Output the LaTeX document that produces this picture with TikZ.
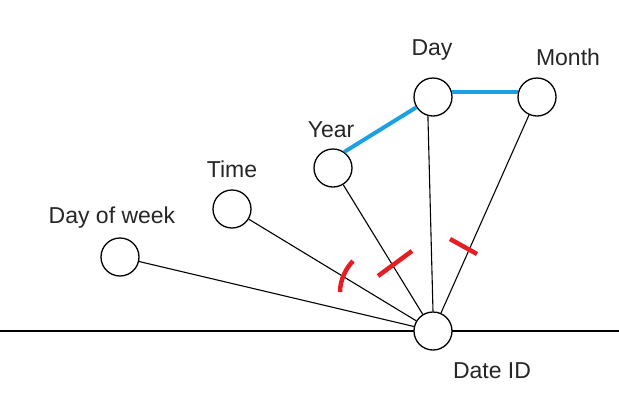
\documentclass[tikz,border=0pt]{standalone}
\usepackage{fontspec}
\setmainfont{Liberation Sans}
\usetikzlibrary{positioning}
\definecolor{linkblue}{RGB}{27,161,226}
\definecolor{cutred}{RGB}{230,30,36}

\begin{document}
\begin{tikzpicture}[x=1pt,y=-1pt,
        attr/.style={draw,circle,line width=1.3pt,minimum size=38pt,inner sep=0pt},
        lbl/.style={anchor=base,text=black!85,font=\fontsize{23}{26}\selectfont,inner sep=0pt},
        edge/.style={line width=1.1pt},
        link/.style={linkblue,line width=4pt},
        cut/.style={cutred,line width=4.5pt}]%
        \useasboundingbox (0,0) rectangle (619,400);%%
        %\draw[step=50,color=gray,very thin] (0,0) grid (619,400);%%
        \draw[line width=1.8pt] (0,331)--(619,331); %%
        \begin{scope}
        \tikzstyle{every node}=[attr,fill=white] %%
        \node (dw) at (120,257)  {}; %%
        \node (tm) at (232,209)  {}; %%
        \node (yr) at (333,168)  {}; %%
        \node (dy) at (433,97)  {}; %%
        \node (mo) at (537,97)  {}; %%
        \node (id) at (433,331)  {}; %%
        \end{scope}
        \begin{scope}
        \tikzstyle{every node}=[lbl] %%
        \node (dwl) at (112,223)  {Day of week}; %%
        \node (tml) at (232,177)  {Time}; %%
        \node (yrl) at (331,137)  {Year}; %%
        \node (dyl) at (432,55)  {Day}; %%
        \node (mol) at (568,65)  {Month}; %%
        \node (idl) at (492,378)  {Date ID}; %%
        \end{scope}
        \draw[edge] (dw)--(id); %%
        \draw[edge] (tm)--(id); %%
        \draw[edge] (yr)--(id); %%
        \draw[edge] (dy.255)--(id.north); %%
        \draw[edge] (mo)--(id); %%
        \draw[link] (yr.55)--(dy); %%
        \draw[link] (dy.14)--(mo.166); %%
        \draw[cut] (340,292) .. controls (340,280) and (346,268) .. (353,261); %%
        \draw[cut] (378,276)--(412,251); %%
        \draw[cut] (450,239)--(477,254); %%
        \end{tikzpicture}
\end{document}
